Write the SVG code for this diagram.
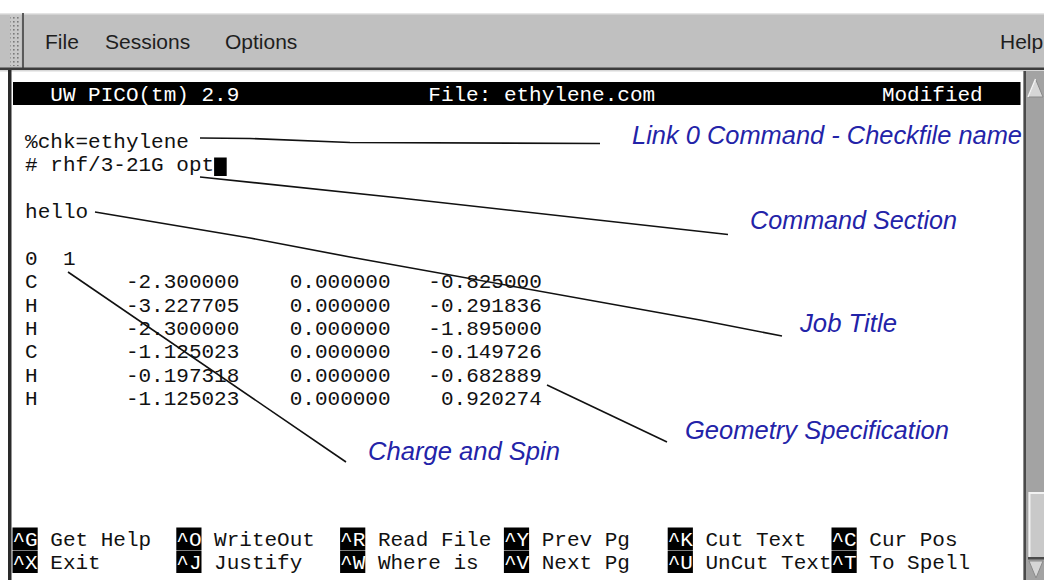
<svg xmlns="http://www.w3.org/2000/svg" width="1044" height="580" viewBox="0 0 1044 580">
<style>
.mono{font-family:"Liberation Mono","DejaVu Sans Mono",monospace;font-size:21px;fill:#111;white-space:pre}
.inv{fill:#fff}
.menu{font-family:"Liberation Sans",Arial,sans-serif;font-size:21px;fill:#1e1e1e}
.lbl{font-family:"Liberation Sans",Arial,sans-serif;font-size:25px;font-style:italic;fill:#2323a8}
.conn{fill:none;stroke:#111;stroke-width:1.6;stroke-linejoin:round}
.key{fill:#000}
</style>
<defs>
<pattern id="grip" width="4" height="4" patternUnits="userSpaceOnUse">
<rect width="4" height="4" fill="#c8c8c8"/>
<rect x="1" y="1" width="1.6" height="1.6" fill="#7a7a7a"/>
</pattern>
</defs>
<rect width="1044" height="580" fill="#fff"/>
<g id="menubar">
<rect x="0" y="13" width="1044" height="55" fill="#c0c0c0"/>
<rect x="0" y="13" width="1044" height="1.5" fill="#e4e4e4"/>
<rect x="10" y="15" width="11" height="51" fill="url(#grip)"/>
<rect x="22" y="13" width="2" height="55" fill="#5a5a5a"/>
<rect x="0" y="67.5" width="1044" height="2.5" fill="#3c3c3c"/>
<rect x="0" y="70" width="1044" height="1.5" fill="#d8d8d8"/>
<text class="menu" x="45" y="48.5">File</text>
<text class="menu" x="105" y="48.5">Sessions</text>
<text class="menu" x="225" y="48.5">Options</text>
<text class="menu" x="1000" y="48.5">Help</text>
</g>
<g id="terminal">
<rect x="8" y="70" width="3.5" height="510" fill="#2a2a2a"/>
<rect x="13" y="82" width="1007.5" height="23" fill="#000"/>
<text class="mono inv" x="50.3" y="101" xml:space="preserve">UW PICO(tm) 2.9</text>
<text class="mono inv" x="428.3" y="101" xml:space="preserve">File: ethylene.com</text>
<text class="mono inv" x="881.9" y="101" xml:space="preserve">Modified</text>
<text class="mono" x="25.1" y="147.8" xml:space="preserve">%chk=ethylene</text>
<text class="mono" x="25.1" y="171.2" xml:space="preserve"># rhf/3-21G opt</text>
<rect x="214.1" y="157.5" width="12.6" height="18.5" fill="#000"/>
<text class="mono" x="25.1" y="218" xml:space="preserve">hello</text>
<text class="mono" x="25.1" y="264.8" xml:space="preserve">0  1</text>
<text class="mono" x="25.1" y="288.2" xml:space="preserve">C       -2.300000    0.000000   -0.825000</text>
<text class="mono" x="25.1" y="311.6" xml:space="preserve">H       -3.227705    0.000000   -0.291836</text>
<text class="mono" x="25.1" y="335" xml:space="preserve">H       -2.300000    0.000000   -1.895000</text>
<text class="mono" x="25.1" y="358.4" xml:space="preserve">C       -1.125023    0.000000   -0.149726</text>
<text class="mono" x="25.1" y="381.8" xml:space="preserve">H       -0.197318    0.000000   -0.682889</text>
<text class="mono" x="25.1" y="405.2" xml:space="preserve">H       -1.125023    0.000000    0.920274</text>
</g>
<g id="keymenu">
<rect class="key" x="12.5" y="527.5" width="25.2" height="22.5"/>
<rect class="key" x="176.3" y="527.5" width="25.2" height="22.5"/>
<rect class="key" x="340.1" y="527.5" width="25.2" height="22.5"/>
<rect class="key" x="503.9" y="527.5" width="25.2" height="22.5"/>
<rect class="key" x="667.7" y="527.5" width="25.2" height="22.5"/>
<rect class="key" x="831.5" y="527.5" width="25.2" height="22.5"/>
<rect class="key" x="12.5" y="550.5" width="25.2" height="22.5"/>
<rect class="key" x="176.3" y="550.5" width="25.2" height="22.5"/>
<rect class="key" x="340.1" y="550.5" width="25.2" height="22.5"/>
<rect class="key" x="503.9" y="550.5" width="25.2" height="22.5"/>
<rect class="key" x="667.7" y="550.5" width="25.2" height="22.5"/>
<rect class="key" x="831.5" y="550.5" width="25.2" height="22.5"/>
<text class="mono inv" x="12.5" y="545.6">^G</text>
<text class="mono inv" x="176.3" y="545.6">^O</text>
<text class="mono inv" x="340.1" y="545.6">^R</text>
<text class="mono inv" x="503.9" y="545.6">^Y</text>
<text class="mono inv" x="667.7" y="545.6">^K</text>
<text class="mono inv" x="831.5" y="545.6">^C</text>
<text class="mono inv" x="12.5" y="569">^X</text>
<text class="mono inv" x="176.3" y="569">^J</text>
<text class="mono inv" x="340.1" y="569">^W</text>
<text class="mono inv" x="503.9" y="569">^V</text>
<text class="mono inv" x="667.7" y="569">^U</text>
<text class="mono inv" x="831.5" y="569">^T</text>
<text class="mono" x="50.3" y="545.6" xml:space="preserve">Get Help</text>
<text class="mono" x="214.1" y="545.6" xml:space="preserve">WriteOut</text>
<text class="mono" x="377.9" y="545.6" xml:space="preserve">Read File</text>
<text class="mono" x="541.7" y="545.6" xml:space="preserve">Prev Pg</text>
<text class="mono" x="705.5" y="545.6" xml:space="preserve">Cut Text</text>
<text class="mono" x="869.3" y="545.6" xml:space="preserve">Cur Pos</text>
<text class="mono" x="50.3" y="569" xml:space="preserve">Exit</text>
<text class="mono" x="214.1" y="569" xml:space="preserve">Justify</text>
<text class="mono" x="377.9" y="569" xml:space="preserve">Where is</text>
<text class="mono" x="541.7" y="569" xml:space="preserve">Next Pg</text>
<text class="mono" x="705.5" y="569" xml:space="preserve">UnCut Text</text>
<text class="mono" x="869.3" y="569" xml:space="preserve">To Spell</text>
</g>
<g id="scrollbar">
<rect x="1023.5" y="71" width="20.5" height="509" fill="#a3a3a3"/>
<rect x="1023.5" y="71" width="2.5" height="509" fill="#4a4a4a"/>
<polygon points="1028,97 1035.5,79 1043,97" fill="#d6d6d6" stroke="#8a8a8a" stroke-width="1"/>
<polyline points="1028,97 1035.5,79" fill="none" stroke="#f4f4f4" stroke-width="1.5"/>
<rect x="1028.5" y="492" width="15.5" height="65" fill="#c9c9c9"/>
<polyline points="1029.5,557 1029.5,493 1044,493" fill="none" stroke="#f2f2f2" stroke-width="2"/>
<rect x="1028" y="557" width="16" height="2.5" fill="#4a4a4a"/>
<polygon points="1029,561 1043,561 1036,578" fill="#d6d6d6" stroke="#8a8a8a" stroke-width="1"/>
</g>
<g id="connectors">
<polyline class="conn" points="200,138 250,138.5 350,142.5 600,143.5"/>
<polyline class="conn" points="200,177 400,198 728,234.5"/>
<polyline class="conn" points="95,212 250,238 350,257 700,320 782,336"/>
<polyline class="conn" points="68,272 346,462"/>
<polyline class="conn" points="547,385 667,442"/>
</g>
<g id="label-link0"><text class="lbl" x="632" y="144" textLength="390" lengthAdjust="spacingAndGlyphs">Link 0 Command - Checkfile name</text></g>
<g id="label-command"><text class="lbl" x="750" y="229" textLength="207" lengthAdjust="spacingAndGlyphs">Command Section</text></g>
<g id="label-jobtitle"><text class="lbl" x="800" y="331.5" textLength="97" lengthAdjust="spacingAndGlyphs">Job Title</text></g>
<g id="label-geometry"><text class="lbl" x="685" y="439" textLength="264" lengthAdjust="spacingAndGlyphs">Geometry Specification</text></g>
<g id="label-charge"><text class="lbl" x="368" y="460" textLength="192" lengthAdjust="spacingAndGlyphs">Charge and Spin</text></g>
</svg>
